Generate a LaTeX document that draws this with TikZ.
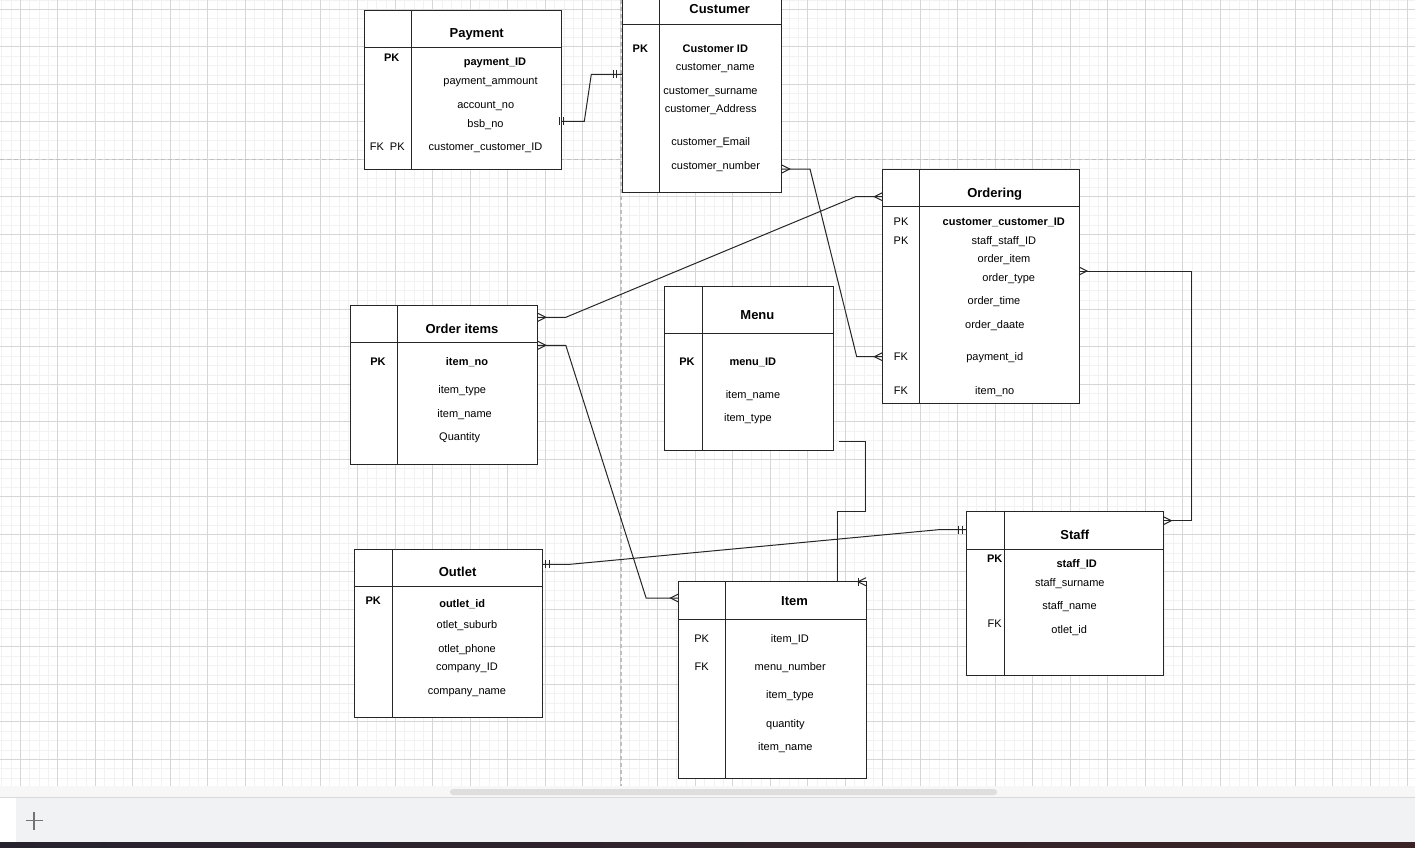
\documentclass[tikz,border=0pt]{standalone}
\usepackage{fontspec}
\setmainfont{Liberation Sans}
\usetikzlibrary{calc}
\definecolor{barbg}{HTML}{F1F2F4}
\definecolor{taskL}{HTML}{26232F}
\definecolor{taskR}{HTML}{3A2428}

\begin{document}
\begin{tikzpicture}[x=1pt, y=-1pt,
  tbl/.style={draw=black!85,fill=white,line width=1pt,inner sep=0pt,outer sep=0pt,anchor=north west},
  rule/.style={draw=black!85,line width=1pt},
  conn/.style={draw=black!85,line width=1pt},
  ttl/.style={inner sep=0pt,text height=9.4pt,text depth=0pt,font=\fontsize{13}{15}\selectfont\bfseries},
  fld/.style={inner sep=0pt,text height=8pt,text depth=0pt,font=\fontsize{11}{13}\selectfont},
  kfld/.style={fld,font=\fontsize{11}{13}\selectfont\bfseries},
  minor/.style={draw=black!5,line width=0.8pt},
  major/.style={draw=black!16,line width=0.8pt},
  pagebrk/.style={draw=black!25,line width=1.2pt,dash pattern=on 4pt off 3pt}
]
\clip (0,0) rectangle (1415,847);
\fill[white] (0,0) rectangle (1415,786);

% Grid
\foreach \k in {0,...,150} \draw[minor] ({1.55+9.375*\k},0) -- ({1.55+9.375*\k},786);
\foreach \k in {0,...,84} \draw[minor] (0,{-0.075+9.375*\k}) -- (1415,{-0.075+9.375*\k});
\foreach \k in {0,...,37} \draw[major] ({20.3+37.5*\k},0) -- ({20.3+37.5*\k},786);
\foreach \k in {0,...,20} \draw[major] (0,{9.3+37.5*\k}) -- (1415,{9.3+37.5*\k});
\draw[pagebrk] (0,159.5) -- (1415,159.5);
\draw[pagebrk] (621,0) -- (621,786);

% Payment
\node[tbl,minimum width=197.3pt,minimum height=159pt] (pay) at (364,10) {};
\draw[rule] (pay.west |- 0,47.3) -- (pay.east |- 0,47.3);
\draw[rule] (pay.north -| 411.3,0) -- (pay.south -| 411.3,0);
\node[ttl] (payT) at (476.7,32.3) {Payment};
\node[kfld] (payK1) at (391.7,57.3) {PK};
\node[kfld] (payF1) at (495,61.3) {payment\_ID};
\node[fld] (payF2) at (490.5,80.3) {payment\_ammount};
\node[fld] (payF3) at (485.7,104.3) {account\_no};
\node[fld] (payF4) at (485.5,123.3) {bsb\_no};
\node[fld] (payK2) at (387.2,146) {FK\ \ PK};
\node[fld] (payF5) at (485.5,146) {customer\_customer\_ID};

% Custumer
\node[tbl,minimum width=159.4pt,minimum height=206.3pt] (cus) at (622.3,-14) {};
\draw[rule] (cus.west |- 0,24) -- (cus.east |- 0,24);
\draw[rule] (cus.north -| 659.3,0) -- (cus.south -| 659.3,0);
\node[ttl] (cusT) at (719.7,9) {Custumer};
\node[kfld] (cusK1) at (640.3,48.3) {PK};
\node[kfld] (cusF1) at (715.3,48.3) {Customer ID};
\node[fld] (cusF2) at (715.3,66.3) {customer\_name};
\node[fld] (cusF3) at (710.5,90.3) {customer\_surname};
\node[fld] (cusF4) at (710.7,108.3) {customer\_Address};
\node[fld] (cusF5) at (710.7,141) {customer\_Email};
\node[fld] (cusF6) at (715.7,165.3) {customer\_number};

% Ordering
\node[tbl,minimum width=196.7pt,minimum height=234pt] (ord) at (882.3,169.3) {};
\draw[rule] (ord.west |- 0,206.7) -- (ord.east |- 0,206.7);
\draw[rule] (ord.north -| 919.3,0) -- (ord.south -| 919.3,0);
\node[ttl] (ordT) at (994.7,192.3) {Ordering};
\node[fld] (ordK1) at (901,221.3) {PK};
\node[kfld] (ordF1) at (1003.8,221.3) {customer\_customer\_ID};
\node[fld] (ordK2) at (901,240.3) {PK};
\node[fld] (ordF2) at (1003.8,240.3) {staff\_staff\_ID};
\node[fld] (ordF3) at (1004,258.3) {order\_item};
\node[fld] (ordF4) at (1008.7,277.3) {order\_type};
\node[fld] (ordF5) at (994,300) {order\_time};
\node[fld] (ordF6) at (994.8,324.3) {order\_daate};
\node[fld] (ordK3) at (901,356.7) {FK};
\node[fld] (ordF7) at (994.7,356.7) {payment\_id};
\node[fld] (ordK4) at (901,390) {FK};
\node[fld] (ordF8) at (994.7,390) {item\_no};

% Order items
\node[tbl,minimum width=187.3pt,minimum height=159pt] (oit) at (350.5,305.3) {};
\draw[rule] (oit.west |- 0,342.3) -- (oit.east |- 0,342.3);
\draw[rule] (oit.north -| 397.5,0) -- (oit.south -| 397.5,0);
\node[ttl] (oitT) at (462,328.3) {Order items};
\node[kfld] (oitK1) at (377.9,361) {PK};
\node[kfld] (oitF1) at (467,361) {item\_no};
\node[fld] (oitF2) at (462.2,389.7) {item\_type};
\node[fld] (oitF3) at (464.6,413.3) {item\_name};
\node[fld] (oitF4) at (459.7,436) {Quantity};

% Menu
\node[tbl,minimum width=169.1pt,minimum height=164pt] (mnu) at (664.5,286.7) {};
\draw[rule] (mnu.west |- 0,333.3) -- (mnu.east |- 0,333.3);
\draw[rule] (mnu.north -| 702,0) -- (mnu.south -| 702,0);
\node[ttl] (mnuT) at (757.4,314.3) {Menu};
\node[kfld] (mnuK1) at (687,361) {PK};
\node[kfld] (mnuF1) at (752.8,361) {menu\_ID};
\node[fld] (mnuF2) at (753,394.3) {item\_name};
\node[fld] (mnuF3) at (747.9,417) {item\_type};

% Outlet
\node[tbl,minimum width=187.7pt,minimum height=168.4pt] (out) at (354.8,549.3) {};
\draw[rule] (out.west |- 0,586.7) -- (out.east |- 0,586.7);
\draw[rule] (out.north -| 392.3,0) -- (out.south -| 392.3,0);
\node[ttl] (outT) at (457.6,572) {Outlet};
\node[kfld] (outK1) at (373.2,600) {PK};
\node[kfld] (outF1) at (462.2,603.3) {outlet\_id};
\node[fld] (outF2) at (466.9,624.3) {otlet\_suburb};
\node[fld] (outF3) at (467,648) {otlet\_phone};
\node[fld] (outF4) at (466.9,666.3) {company\_ID};
\node[fld] (outF5) at (466.9,690.3) {company\_name};

% Item
\node[tbl,minimum width=187.5pt,minimum height=196.6pt] (itm) at (678.5,581.7) {};
\draw[rule] (itm.west |- 0,619.3) -- (itm.east |- 0,619.3);
\draw[rule] (itm.north -| 725.3,0) -- (itm.south -| 725.3,0);
\node[ttl] (itmT) at (794.5,600.3) {Item};
\node[fld] (itmK1) at (701.6,638) {PK};
\node[fld] (itmF1) at (789.9,638) {item\_ID};
\node[fld] (itmK2) at (701.6,666) {FK};
\node[fld] (itmF2) at (790.2,666) {menu\_number};
\node[fld] (itmF3) at (790,694.3) {item\_type};
\node[fld] (itmF4) at (785.4,723.3) {quantity};
\node[fld] (itmF5) at (785.4,746.3) {item\_name};

% Staff
\node[tbl,minimum width=196.6pt,minimum height=164pt] (stf) at (966.7,511.7) {};
\draw[rule] (stf.west |- 0,549) -- (stf.east |- 0,549);
\draw[rule] (stf.north -| 1004.3,0) -- (stf.south -| 1004.3,0);
\node[ttl] (stfT) at (1074.8,534.3) {Staff};
\node[kfld] (stfK1) at (994.7,558.3) {PK};
\node[kfld] (stfF1) at (1076.7,563.3) {staff\_ID};
\node[fld] (stfF2) at (1069.8,582.3) {staff\_surname};
\node[fld] (stfF3) at (1069.5,605) {staff\_name};
\node[fld] (stfK2) at (994.7,623.3) {FK};
\node[fld] (stfF4) at (1069.2,629.3) {otlet\_id};

% Connections
\draw[conn] (pay.east |- 0,121.3) -- (584.3,121.3) -- (591.3,74.3) -- (cus.west |- 0,74.3);
\draw[conn] ($(pay.east |- 0,121.3)+(-1.5,-4)$) -- ++(0,8) ++(3.5,-8) -- ++(0,8);
\draw[conn] ($(cus.west |- 0,74.3)+(-9,-4)$) -- ++(0,8) ++(3,-8) -- ++(0,8);

\draw[conn] (cus.east |- 0,169) -- (810,169) -- (856.7,356.7) -- (ord.west |- 0,356.7);
\draw[conn] ($(cus.east |- 0,169)+(0,-4)$) -- ++(8,4) -- ++(-8,4);
\draw[conn] ($(ord.west |- 0,356.7)+(0,-4)$) -- ++(-8,4) -- ++(8,4);

\draw[conn] (oit.east |- 0,317.3) -- (565.8,317.3) -- (855.5,196.7) -- (ord.west |- 0,196.7);
\draw[conn] ($(oit.east |- 0,317.3)+(0,-4)$) -- ++(8,4) -- ++(-8,4);
\draw[conn] ($(ord.west |- 0,196.7)+(0,-4)$) -- ++(-8,4) -- ++(8,4);

\draw[conn] (oit.east |- 0,345.3) -- (565.8,345.3) -- (646.1,598) -- (itm.west |- 0,598);
\draw[conn] ($(oit.east |- 0,345.3)+(0,-4)$) -- ++(8,4) -- ++(-8,4);
\draw[conn] ($(itm.west |- 0,598)+(0,-4)$) -- ++(-8,4) -- ++(8,4);

\draw[conn] (ord.east |- 0,271) -- (1191.7,271) -- (1191.7,520.7) -- (stf.east |- 0,520.7);
\draw[conn] ($(ord.east |- 0,271)+(0,-4)$) -- ++(8,4) -- ++(-8,4);
\draw[conn] ($(stf.east |- 0,520.7)+(0,-4)$) -- ++(8,4) -- ++(-8,4);

\draw[conn] (out.east |- 0,564.3) -- (570,564.3) -- (938.3,529.7) -- (stf.west |- 0,529.7);
\draw[conn] ($(out.east |- 0,564.3)+(2.5,-4)$) -- ++(0,8) ++(4,-8) -- ++(0,8);
\draw[conn] ($(stf.west |- 0,529.7)+(-8.4,-4)$) -- ++(0,8) ++(4.4,-8) -- ++(0,8);

\coordinate (mnuOut) at ($(mnu.east |- 0,441.3)+(5,0)$);
\draw[conn] (mnuOut) -- (865.7,441.3) -- (865.7,511) -- (837.7,511) -- (837.7,581.7) -- (itm.north east);
\draw[conn] ($(itm.north east)+(0,-4)$) -- ++(-8,4) -- ++(8,4);
\draw[conn] ($(itm.north east)+(-8,-4)$) -- ++(0,8);

% Bottom bar
\fill[black!3] (0,786) rectangle (1415,797);
\fill[black!13,rounded corners=3pt] (450,789) rectangle (997,795);
\draw[black!15] (0,797) -- (1415,797);
\fill[barbg] (0,797.5) rectangle (1415,842);
\fill[white] (0,797.5) rectangle (16,842);
\draw[black!55,line width=1.8pt] (25.5,820.5) -- (43,820.5) (34.3,812) -- (34.3,829.5);
\shade[left color=taskL,right color=taskR] (0,842) rectangle (1415,847);
\end{tikzpicture}
\end{document}
